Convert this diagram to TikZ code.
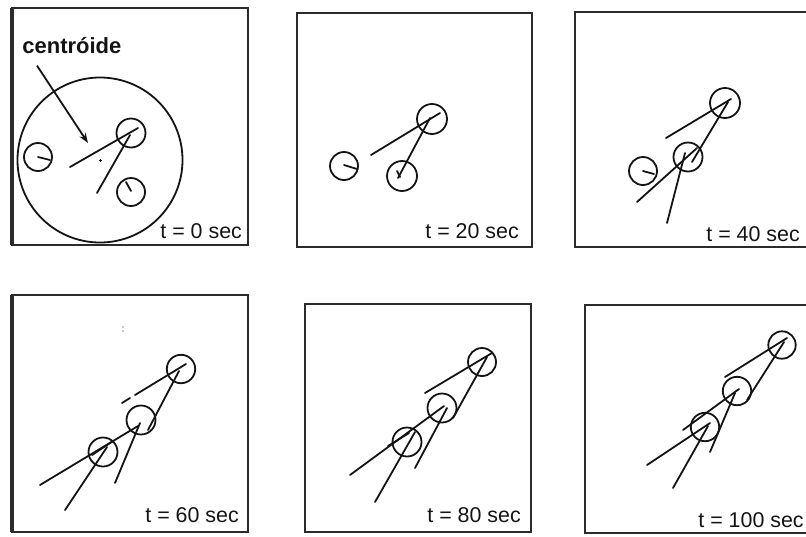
\documentclass[tikz,border=0pt]{standalone}
\usepackage{fontspec}
\setmainfont{Liberation Sans}
\usetikzlibrary{arrows.meta, positioning}
\definecolor{ink}{HTML}{141414}
\definecolor{frm}{HTML}{2B2B2B}
\tikzset{
  panel/.style={draw=frm, line width=1.2pt},
  bot/.style={draw=ink, line width=0.9pt},
  trail/.style={draw=ink, line width=0.9pt, line cap=round},
  tlabel/.style={anchor=base west, inner sep=0pt, text=ink,
                 font=\fontsize{10.7}{12}\selectfont},
  fl/.style={-{Stealth[length=5pt, width=3.6pt]}, line width=0.9pt, draw=ink},
}
\begin{document}
\begin{tikzpicture}[x=0.5pt, y=-0.5pt]
  \useasboundingbox (0,0) rectangle (806,536);
  \clip (0,0) rectangle (806,536);

  % t = 0
  \draw[panel] (12,8) rectangle (248,245);
  \draw[panel, line width=1.8pt] (12,8) -- (12,245);
  \draw[bot] (100,160) circle (82.5);
  \draw[bot] (38,157) circle (14);
  \draw[bot] (131,133) circle (14.5);
  \draw[bot] (131,192) circle (14);
  \draw[trail] (38,157) -- (50,160);
  \draw[trail] (126,182) -- (131,191);
  \draw[trail] (70,167) -- (138,128);
  \draw[trail] (97,193) -- (130,135);
  \draw[ink, line width=0.3pt] (98.5,160) -- (101.5,160) (100,158.5) -- (100,161.5);
  \node[tlabel, font=\fontsize{11}{12}\selectfont\bfseries] (cen) at (22,53) {centróide};
  \coordinate (cpt) at (88,143);
  \draw[fl] ([xshift=7.5pt, yshift=-6pt]cen.south west) -- (cpt);
  \node[tlabel] (t0) at (160,238) {t = 0 sec};

  % t = 20
  \draw[panel] (297,13) rectangle (532,247);
  \draw[bot] (344,166) circle (14);
  \draw[bot] (432,119) circle (15);
  \draw[bot] (402,176) circle (15);
  \draw[trail] (344,165) -- (357,169);
  \draw[trail] (397,171) -- (400,177);
  \draw[trail] (371,155) -- (440,113);
  \draw[trail] (398,178) -- (430,118);
  \node[tlabel] (t20) at (425,238) {t = 20 sec};

  % t = 40
  \draw[panel] (575,12) rectangle (830,247);
  \draw[bot] (725,103) circle (15);
  \draw[bot] (688,157) circle (14.5);
  \draw[bot] (643,171) circle (14);
  \draw[trail] (643,171) -- (654,174);
  \draw[trail] (666,138) -- (731,99);
  \draw[trail] (692,162) -- (728,102);
  \draw[trail] (637,202) -- (697,148);
  \draw[trail] (667,223) -- (685,153);
  \node[tlabel] (t40) at (706,241) {t = 40 sec};

  % t = 60
  \draw[panel] (12,295) rectangle (248,532);
  \draw[panel, line width=1.8pt] (12,295) -- (12,532);
  \draw[bot] (181,369) circle (14.2);
  \draw[bot] (141,420) circle (14.5);
  \draw[bot] (103,452) circle (14.5);
  \draw[trail] (122,403) -- (130,398);
  \draw[trail] (135,395) -- (186,364);
  \draw[trail] (148,430) -- (179,371);
  \draw[trail] (40,485) -- (138,426);
  \draw[trail] (115,483) -- (140,423);
  \draw[trail] (65,510) -- (107,447);
  \draw[trail] (92,455) -- (113,441);
  \fill[ink] (123,327) circle (0.7) (123,331) circle (0.7);
  \node[tlabel] (t60) at (145,522) {t = 60 sec};

  % t = 80
  \draw[panel] (305,304) rectangle (531,532);
  \draw[bot] (482,362) circle (14);
  \draw[bot] (442,408) circle (14.5);
  \draw[bot] (407,442) circle (14.5);
  \draw[trail] (425,393) -- (492,353);
  \draw[trail] (453,418) -- (487,357);
  \draw[trail] (350,475) -- (444,406);
  \draw[trail] (415,468) -- (447,408);
  \draw[trail] (375,502) -- (415,432);
  \draw[trail] (388,446) -- (409,433);
  \node[tlabel] (t80) at (427,522) {t = 80 sec};

  % t = 100
  \draw[panel] (585,305) rectangle (830,533);
  \draw[bot] (782,345) circle (13.7);
  \draw[bot] (737,391) circle (14.2);
  \draw[bot] (705,427) circle (14.2);
  \draw[trail] (725,377) -- (787,338);
  \draw[trail] (747,400) -- (784,342);
  \draw[trail] (683,430) -- (739,389);
  \draw[trail] (710,452) -- (735,393);
  \draw[trail] (647,465) -- (710,423);
  \draw[trail] (673,488) -- (708,426);
  \node[tlabel] (t100) at (698,527) {t = 100 sec};
\end{tikzpicture}
\end{document}
